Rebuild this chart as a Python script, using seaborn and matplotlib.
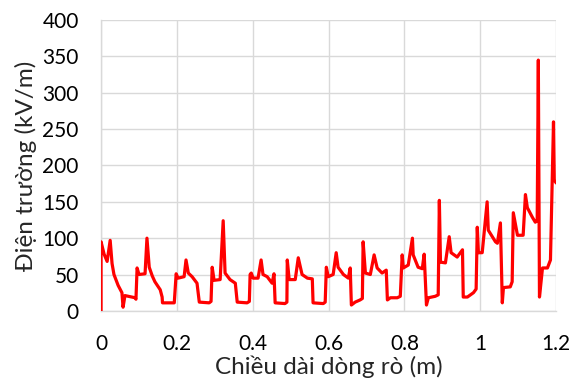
import matplotlib
matplotlib.use("Agg")
import matplotlib.pyplot as plt
import seaborn as sns
import pandas as pd

# Electric field along the leakage path
leak_length_m = [
    0.000, 0.000, 0.008, 0.016, 0.024, 0.029, 0.034, 0.045, 0.055, 0.058, 0.063, 0.090, 0.092,
    0.095, 0.100, 0.116, 0.121, 0.127, 0.135, 0.142, 0.156, 0.161, 0.162, 0.193,
    0.198, 0.203, 0.219, 0.224, 0.230, 0.240, 0.253, 0.259, 0.285, 0.290,
    0.293, 0.298, 0.314, 0.322, 0.327, 0.340, 0.354, 0.359, 0.385, 0.391,
    0.393, 0.396, 0.401, 0.414, 0.422, 0.427, 0.438, 0.451, 0.456, 0.459, 0.485, 0.490,
    0.491, 0.496, 0.512, 0.520, 0.530, 0.544, 0.557, 0.559, 0.586, 0.591,
    0.594, 0.599, 0.612, 0.620, 0.625, 0.639, 0.652, 0.657, 0.660, 0.670, 0.683, 0.689,
    0.691, 0.697, 0.710, 0.720, 0.728, 0.741, 0.752, 0.755, 0.763, 0.781, 0.789,
    0.794, 0.797, 0.810, 0.821, 0.823, 0.836, 0.847, 0.852, 0.858, 0.863, 0.881, 0.889,
    0.892, 0.895, 0.908, 0.918, 0.923, 0.939, 0.953, 0.955, 0.966, 0.982, 0.989,
    0.992, 0.995, 1.005, 1.018, 1.021, 1.040, 1.045, 1.053, 1.058, 1.061, 1.079, 1.084,
    1.087, 1.098, 1.113, 1.119, 1.124, 1.137, 1.145, 1.150, 1.153, 1.156,
    1.164, 1.177, 1.185, 1.193, 1.195, 1.200,
]
field_kv_m = [
    0, 95, 78, 68, 97, 65, 50, 35, 25, 5, 21, 18, 16,
    59, 50, 51, 100, 60, 48, 40, 29, 19, 11, 11,
    51, 45, 47, 70, 52, 47, 38, 12, 11, 13,
    60, 42, 43, 124, 52, 43, 38, 12, 11, 13,
    50, 52, 45, 45, 70, 50, 47, 38, 51, 11, 10, 12,
    70, 43, 43, 73, 50, 45, 44, 11, 10, 12,
    60, 47, 50, 80, 60, 50, 45, 59, 8, 12, 15, 17,
    95, 52, 50, 77, 59, 52, 56, 15, 18, 18, 20,
    77, 59, 63, 100, 77, 60, 58, 78, 8, 18, 20, 22,
    152, 67, 66, 102, 80, 74, 84, 19, 19, 25, 30,
    115, 80, 80, 150, 111, 95, 93, 121, 11, 32, 33, 40,
    135, 104, 104, 160, 142, 129, 122, 124, 345, 19,
    59, 59, 70, 260, 180, 176,
]

x_ticks = [0, 0.2, 0.4, 0.6, 0.8, 1, 1.2]
x_tick_labels = ["0", "0.2", "0.4", "0.6", "0.8", "1", "1.2"]
y_ticks = [0, 50, 100, 150, 200, 250, 300, 350, 400]

df = pd.DataFrame({"x": leak_length_m, "E": field_kv_m})

sns.set_theme(style="white")
plt.rcParams["font.family"] = ["Lato", "DejaVu Sans"]

fig = plt.figure(figsize=(5.71, 3.80), dpi=100)
ax = fig.add_axes([0.177, 0.182, 0.797, 0.765])

sns.lineplot(data=df, x="x", y="E", sort=False, estimator=None,
             color="#FF0000", linewidth=2.3, ax=ax, zorder=3)

ax.set_xlim(0, 1.2)
ax.set_ylim(0, 400)
ax.set_xticks(x_ticks)
ax.set_xticklabels(x_tick_labels)
ax.set_yticks(y_ticks)
ax.grid(True, color="#D9D9D9", linewidth=1.0, zorder=0)
for side in ["top", "right"]:
    ax.spines[side].set_visible(False)
for side in ["left", "bottom"]:
    ax.spines[side].set_color("#D9D9D9")
    ax.spines[side].set_linewidth(1.0)
ax.tick_params(axis="both", length=0, labelsize=15, colors="black")
ax.tick_params(axis="x", pad=17)
ax.tick_params(axis="y", pad=16)
ax.set_xlabel("Chiều dài dòng rò (m)", fontsize=17.5, labelpad=1)
ax.set_ylabel("Điện trường (kV/m)", fontsize=17.5, labelpad=4)

fig.savefig("out.png", dpi=100)
